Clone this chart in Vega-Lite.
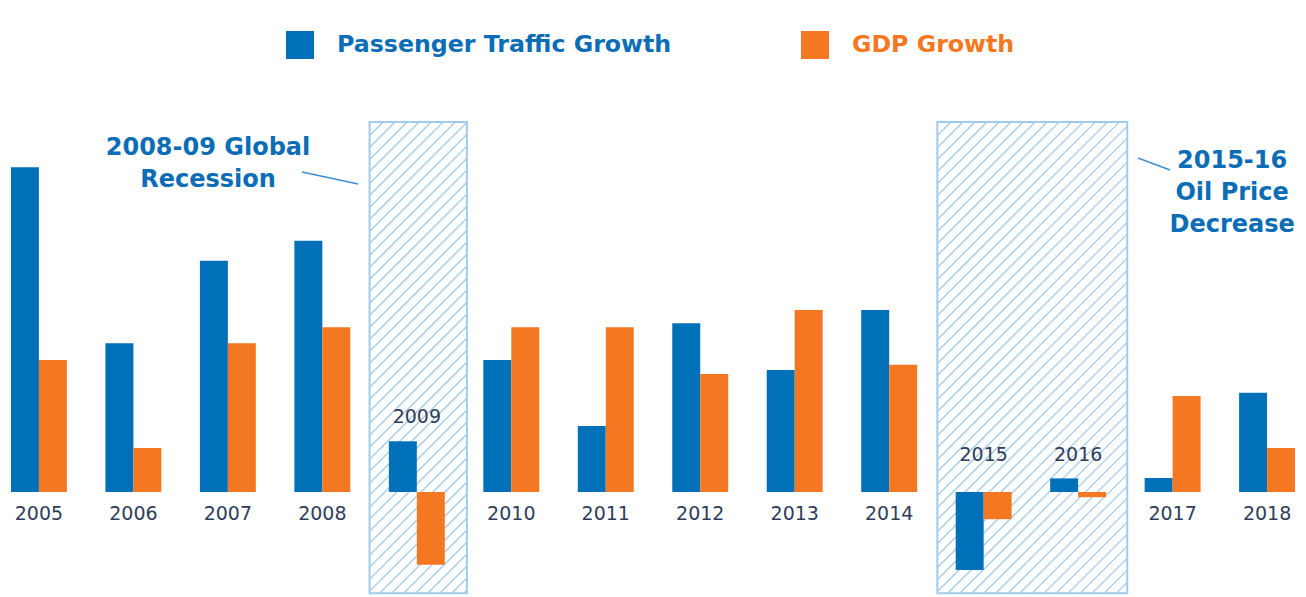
{
 "$schema": "https://vega.github.io/schema/vega-lite/v6.json",
 "width": 1306, "height": 597, "padding": 0, "autosize": {"type": "none"},
 "background": "#ffffff",
 "config": {"view": {"stroke": null}, "font": "DejaVu Sans"},
 "resolve": {"scale": {"x": "independent"}},
 "layer": [
  {
   "layer": [
    {
     "data": {"values": [{"start": 2008.5, "end": 2009.53}]},
     "mark": {"type": "rect", "stroke": "#a0cbec", "strokeWidth": 2,
      "fill": {"gradient": "linear", "x1": 0, "y1": 0, "x2": 0.2382, "y2": 1.1569, "stops": [
{"offset":0,"color":"#fff"},{"offset":0.0026,"color":"#8fc2e8"},{"offset":0.0053,"color":"#fff"},
{"offset":0.0211,"color":"#fff"},{"offset":0.0237,"color":"#8fc2e8"},{"offset":0.0264,"color":"#fff"},
{"offset":0.0422,"color":"#fff"},{"offset":0.0448,"color":"#8fc2e8"},{"offset":0.0475,"color":"#fff"},
{"offset":0.0633,"color":"#fff"},{"offset":0.0659,"color":"#8fc2e8"},{"offset":0.0686,"color":"#fff"},
{"offset":0.0844,"color":"#fff"},{"offset":0.087,"color":"#8fc2e8"},{"offset":0.0897,"color":"#fff"},
{"offset":0.1055,"color":"#fff"},{"offset":0.1081,"color":"#8fc2e8"},{"offset":0.1108,"color":"#fff"},
{"offset":0.1266,"color":"#fff"},{"offset":0.1292,"color":"#8fc2e8"},{"offset":0.1319,"color":"#fff"},
{"offset":0.1477,"color":"#fff"},{"offset":0.1503,"color":"#8fc2e8"},{"offset":0.153,"color":"#fff"},
{"offset":0.1688,"color":"#fff"},{"offset":0.1714,"color":"#8fc2e8"},{"offset":0.1741,"color":"#fff"},
{"offset":0.1899,"color":"#fff"},{"offset":0.1925,"color":"#8fc2e8"},{"offset":0.1952,"color":"#fff"},
{"offset":0.211,"color":"#fff"},{"offset":0.2136,"color":"#8fc2e8"},{"offset":0.2163,"color":"#fff"},
{"offset":0.2321,"color":"#fff"},{"offset":0.2347,"color":"#8fc2e8"},{"offset":0.2374,"color":"#fff"},
{"offset":0.2532,"color":"#fff"},{"offset":0.2558,"color":"#8fc2e8"},{"offset":0.2585,"color":"#fff"},
{"offset":0.2743,"color":"#fff"},{"offset":0.2769,"color":"#8fc2e8"},{"offset":0.2796,"color":"#fff"},
{"offset":0.2954,"color":"#fff"},{"offset":0.298,"color":"#8fc2e8"},{"offset":0.3007,"color":"#fff"},
{"offset":0.3165,"color":"#fff"},{"offset":0.3191,"color":"#8fc2e8"},{"offset":0.3218,"color":"#fff"},
{"offset":0.3376,"color":"#fff"},{"offset":0.3402,"color":"#8fc2e8"},{"offset":0.3429,"color":"#fff"},
{"offset":0.3587,"color":"#fff"},{"offset":0.3613,"color":"#8fc2e8"},{"offset":0.364,"color":"#fff"},
{"offset":0.3798,"color":"#fff"},{"offset":0.3824,"color":"#8fc2e8"},{"offset":0.3851,"color":"#fff"},
{"offset":0.4009,"color":"#fff"},{"offset":0.4035,"color":"#8fc2e8"},{"offset":0.4062,"color":"#fff"},
{"offset":0.422,"color":"#fff"},{"offset":0.4246,"color":"#8fc2e8"},{"offset":0.4273,"color":"#fff"},
{"offset":0.4431,"color":"#fff"},{"offset":0.4457,"color":"#8fc2e8"},{"offset":0.4484,"color":"#fff"},
{"offset":0.4642,"color":"#fff"},{"offset":0.4668,"color":"#8fc2e8"},{"offset":0.4695,"color":"#fff"},
{"offset":0.4853,"color":"#fff"},{"offset":0.4879,"color":"#8fc2e8"},{"offset":0.4906,"color":"#fff"},
{"offset":0.5064,"color":"#fff"},{"offset":0.509,"color":"#8fc2e8"},{"offset":0.5117,"color":"#fff"},
{"offset":0.5275,"color":"#fff"},{"offset":0.5301,"color":"#8fc2e8"},{"offset":0.5328,"color":"#fff"},
{"offset":0.5486,"color":"#fff"},{"offset":0.5512,"color":"#8fc2e8"},{"offset":0.5539,"color":"#fff"},
{"offset":0.5697,"color":"#fff"},{"offset":0.5723,"color":"#8fc2e8"},{"offset":0.575,"color":"#fff"},
{"offset":0.5908,"color":"#fff"},{"offset":0.5934,"color":"#8fc2e8"},{"offset":0.5961,"color":"#fff"},
{"offset":0.6119,"color":"#fff"},{"offset":0.6145,"color":"#8fc2e8"},{"offset":0.6172,"color":"#fff"},
{"offset":0.633,"color":"#fff"},{"offset":0.6356,"color":"#8fc2e8"},{"offset":0.6383,"color":"#fff"},
{"offset":0.6541,"color":"#fff"},{"offset":0.6567,"color":"#8fc2e8"},{"offset":0.6594,"color":"#fff"},
{"offset":0.6752,"color":"#fff"},{"offset":0.6778,"color":"#8fc2e8"},{"offset":0.6805,"color":"#fff"},
{"offset":0.6963,"color":"#fff"},{"offset":0.6989,"color":"#8fc2e8"},{"offset":0.7016,"color":"#fff"},
{"offset":0.7174,"color":"#fff"},{"offset":0.72,"color":"#8fc2e8"},{"offset":0.7227,"color":"#fff"},
{"offset":0.7385,"color":"#fff"},{"offset":0.7411,"color":"#8fc2e8"},{"offset":0.7438,"color":"#fff"},
{"offset":0.7596,"color":"#fff"},{"offset":0.7622,"color":"#8fc2e8"},{"offset":0.7649,"color":"#fff"},
{"offset":0.7807,"color":"#fff"},{"offset":0.7833,"color":"#8fc2e8"},{"offset":0.786,"color":"#fff"},
{"offset":0.8018,"color":"#fff"},{"offset":0.8044,"color":"#8fc2e8"},{"offset":0.8071,"color":"#fff"},
{"offset":0.8229,"color":"#fff"},{"offset":0.8255,"color":"#8fc2e8"},{"offset":0.8282,"color":"#fff"},
{"offset":0.844,"color":"#fff"},{"offset":0.8466,"color":"#8fc2e8"},{"offset":0.8493,"color":"#fff"},
{"offset":0.8651,"color":"#fff"},{"offset":0.8677,"color":"#8fc2e8"},{"offset":0.8704,"color":"#fff"},
{"offset":0.8862,"color":"#fff"},{"offset":0.8888,"color":"#8fc2e8"},{"offset":0.8915,"color":"#fff"},
{"offset":0.9073,"color":"#fff"},{"offset":0.9099,"color":"#8fc2e8"},{"offset":0.9126,"color":"#fff"},
{"offset":0.9284,"color":"#fff"},{"offset":0.931,"color":"#8fc2e8"},{"offset":0.9337,"color":"#fff"},
{"offset":0.9495,"color":"#fff"},{"offset":0.9521,"color":"#8fc2e8"},{"offset":0.9548,"color":"#fff"},
{"offset":0.9706,"color":"#fff"},{"offset":0.9732,"color":"#8fc2e8"},{"offset":0.9759,"color":"#fff"},
{"offset":0.9917,"color":"#fff"},{"offset":0.9943,"color":"#8fc2e8"},{"offset":0.997,"color":"#fff"}
      ]}},
     "encoding": {
      "x": {"field": "start", "type": "quantitative", "axis": null, "scale": {"domain": [2004.588, 2018.412], "nice": false, "zero": false}},
      "x2": {"field": "end"},
      "y": {"datum": 9.25, "type": "quantitative", "axis": null, "scale": {"domain": [-2.625, 12.3], "nice": false, "zero": false}},
      "y2": {"datum": -2.53}
     }
    },
    {
     "data": {"values": [{"start": 2014.51, "end": 2016.52}]},
     "mark": {"type": "rect", "stroke": "#a0cbec", "strokeWidth": 2,
      "fill": {"gradient": "linear", "x1": 0, "y1": 0, "x2": 0.4848, "y2": 1.2069, "stops": [
{"offset":0,"color":"#fff"},{"offset":0.0023,"color":"#8fc2e8"},{"offset":0.0045,"color":"#fff"},
{"offset":0.0182,"color":"#fff"},{"offset":0.0205,"color":"#8fc2e8"},{"offset":0.0227,"color":"#fff"},
{"offset":0.0363,"color":"#fff"},{"offset":0.0386,"color":"#8fc2e8"},{"offset":0.0408,"color":"#fff"},
{"offset":0.0545,"color":"#fff"},{"offset":0.0568,"color":"#8fc2e8"},{"offset":0.059,"color":"#fff"},
{"offset":0.0727,"color":"#fff"},{"offset":0.075,"color":"#8fc2e8"},{"offset":0.0772,"color":"#fff"},
{"offset":0.0909,"color":"#fff"},{"offset":0.0932,"color":"#8fc2e8"},{"offset":0.0954,"color":"#fff"},
{"offset":0.109,"color":"#fff"},{"offset":0.1113,"color":"#8fc2e8"},{"offset":0.1135,"color":"#fff"},
{"offset":0.1272,"color":"#fff"},{"offset":0.1295,"color":"#8fc2e8"},{"offset":0.1317,"color":"#fff"},
{"offset":0.1454,"color":"#fff"},{"offset":0.1477,"color":"#8fc2e8"},{"offset":0.1499,"color":"#fff"},
{"offset":0.1635,"color":"#fff"},{"offset":0.1658,"color":"#8fc2e8"},{"offset":0.168,"color":"#fff"},
{"offset":0.1817,"color":"#fff"},{"offset":0.184,"color":"#8fc2e8"},{"offset":0.1862,"color":"#fff"},
{"offset":0.1999,"color":"#fff"},{"offset":0.2022,"color":"#8fc2e8"},{"offset":0.2044,"color":"#fff"},
{"offset":0.218,"color":"#fff"},{"offset":0.2203,"color":"#8fc2e8"},{"offset":0.2225,"color":"#fff"},
{"offset":0.2362,"color":"#fff"},{"offset":0.2385,"color":"#8fc2e8"},{"offset":0.2407,"color":"#fff"},
{"offset":0.2544,"color":"#fff"},{"offset":0.2567,"color":"#8fc2e8"},{"offset":0.2589,"color":"#fff"},
{"offset":0.2726,"color":"#fff"},{"offset":0.2749,"color":"#8fc2e8"},{"offset":0.2771,"color":"#fff"},
{"offset":0.2907,"color":"#fff"},{"offset":0.293,"color":"#8fc2e8"},{"offset":0.2952,"color":"#fff"},
{"offset":0.3089,"color":"#fff"},{"offset":0.3112,"color":"#8fc2e8"},{"offset":0.3134,"color":"#fff"},
{"offset":0.3271,"color":"#fff"},{"offset":0.3294,"color":"#8fc2e8"},{"offset":0.3316,"color":"#fff"},
{"offset":0.3452,"color":"#fff"},{"offset":0.3475,"color":"#8fc2e8"},{"offset":0.3497,"color":"#fff"},
{"offset":0.3634,"color":"#fff"},{"offset":0.3657,"color":"#8fc2e8"},{"offset":0.3679,"color":"#fff"},
{"offset":0.3816,"color":"#fff"},{"offset":0.3839,"color":"#8fc2e8"},{"offset":0.3861,"color":"#fff"},
{"offset":0.3997,"color":"#fff"},{"offset":0.402,"color":"#8fc2e8"},{"offset":0.4042,"color":"#fff"},
{"offset":0.4179,"color":"#fff"},{"offset":0.4202,"color":"#8fc2e8"},{"offset":0.4224,"color":"#fff"},
{"offset":0.4361,"color":"#fff"},{"offset":0.4384,"color":"#8fc2e8"},{"offset":0.4406,"color":"#fff"},
{"offset":0.4543,"color":"#fff"},{"offset":0.4566,"color":"#8fc2e8"},{"offset":0.4588,"color":"#fff"},
{"offset":0.4724,"color":"#fff"},{"offset":0.4747,"color":"#8fc2e8"},{"offset":0.4769,"color":"#fff"},
{"offset":0.4906,"color":"#fff"},{"offset":0.4929,"color":"#8fc2e8"},{"offset":0.4951,"color":"#fff"},
{"offset":0.5088,"color":"#fff"},{"offset":0.5111,"color":"#8fc2e8"},{"offset":0.5133,"color":"#fff"},
{"offset":0.5269,"color":"#fff"},{"offset":0.5292,"color":"#8fc2e8"},{"offset":0.5314,"color":"#fff"},
{"offset":0.5451,"color":"#fff"},{"offset":0.5474,"color":"#8fc2e8"},{"offset":0.5496,"color":"#fff"},
{"offset":0.5633,"color":"#fff"},{"offset":0.5656,"color":"#8fc2e8"},{"offset":0.5678,"color":"#fff"},
{"offset":0.5814,"color":"#fff"},{"offset":0.5837,"color":"#8fc2e8"},{"offset":0.5859,"color":"#fff"},
{"offset":0.5996,"color":"#fff"},{"offset":0.6019,"color":"#8fc2e8"},{"offset":0.6041,"color":"#fff"},
{"offset":0.6178,"color":"#fff"},{"offset":0.6201,"color":"#8fc2e8"},{"offset":0.6223,"color":"#fff"},
{"offset":0.636,"color":"#fff"},{"offset":0.6383,"color":"#8fc2e8"},{"offset":0.6405,"color":"#fff"},
{"offset":0.6541,"color":"#fff"},{"offset":0.6564,"color":"#8fc2e8"},{"offset":0.6586,"color":"#fff"},
{"offset":0.6723,"color":"#fff"},{"offset":0.6746,"color":"#8fc2e8"},{"offset":0.6768,"color":"#fff"},
{"offset":0.6905,"color":"#fff"},{"offset":0.6928,"color":"#8fc2e8"},{"offset":0.695,"color":"#fff"},
{"offset":0.7086,"color":"#fff"},{"offset":0.7109,"color":"#8fc2e8"},{"offset":0.7131,"color":"#fff"},
{"offset":0.7268,"color":"#fff"},{"offset":0.7291,"color":"#8fc2e8"},{"offset":0.7313,"color":"#fff"},
{"offset":0.745,"color":"#fff"},{"offset":0.7473,"color":"#8fc2e8"},{"offset":0.7495,"color":"#fff"},
{"offset":0.7631,"color":"#fff"},{"offset":0.7654,"color":"#8fc2e8"},{"offset":0.7676,"color":"#fff"},
{"offset":0.7813,"color":"#fff"},{"offset":0.7836,"color":"#8fc2e8"},{"offset":0.7858,"color":"#fff"},
{"offset":0.7995,"color":"#fff"},{"offset":0.8018,"color":"#8fc2e8"},{"offset":0.804,"color":"#fff"},
{"offset":0.8177,"color":"#fff"},{"offset":0.82,"color":"#8fc2e8"},{"offset":0.8222,"color":"#fff"},
{"offset":0.8358,"color":"#fff"},{"offset":0.8381,"color":"#8fc2e8"},{"offset":0.8403,"color":"#fff"},
{"offset":0.854,"color":"#fff"},{"offset":0.8563,"color":"#8fc2e8"},{"offset":0.8585,"color":"#fff"},
{"offset":0.8722,"color":"#fff"},{"offset":0.8745,"color":"#8fc2e8"},{"offset":0.8767,"color":"#fff"},
{"offset":0.8903,"color":"#fff"},{"offset":0.8926,"color":"#8fc2e8"},{"offset":0.8948,"color":"#fff"},
{"offset":0.9085,"color":"#fff"},{"offset":0.9108,"color":"#8fc2e8"},{"offset":0.913,"color":"#fff"},
{"offset":0.9267,"color":"#fff"},{"offset":0.929,"color":"#8fc2e8"},{"offset":0.9312,"color":"#fff"},
{"offset":0.9448,"color":"#fff"},{"offset":0.9471,"color":"#8fc2e8"},{"offset":0.9493,"color":"#fff"},
{"offset":0.963,"color":"#fff"},{"offset":0.9653,"color":"#8fc2e8"},{"offset":0.9675,"color":"#fff"},
{"offset":0.9812,"color":"#fff"},{"offset":0.9835,"color":"#8fc2e8"},{"offset":0.9857,"color":"#fff"}
      ]}},
     "encoding": {
      "x": {"field": "start", "type": "quantitative", "axis": null, "scale": {"domain": [2004.588, 2018.412], "nice": false, "zero": false}},
      "x2": {"field": "end"},
      "y": {"datum": 9.25, "type": "quantitative"},
      "y2": {"datum": -2.53}
     }
    },
    {
     "data": {"values": [{"note": "recession"}]},
     "mark": {"type": "text", "text": ["2008-09 Global", "Recession"], "align": "center", "baseline": "alphabetic", "lineHeight": 32, "fontSize": 24, "fontWeight": "bold", "color": "#0a6db6"},
     "encoding": {
      "x": {"datum": 2006.79, "type": "quantitative", "scale": {"domain": [2004.588, 2018.412], "nice": false, "zero": false}},
      "y": {"datum": 8.425, "type": "quantitative"}
     }
    },
    {
     "data": {"values": [{"note": "oil"}]},
     "mark": {"type": "text", "text": ["2015-16", "Oil Price", "Decrease"], "align": "center", "baseline": "alphabetic", "lineHeight": 32, "fontSize": 24, "fontWeight": "bold", "color": "#0a6db6"},
     "encoding": {
      "x": {"datum": 2017.63, "type": "quantitative", "scale": {"domain": [2004.588, 2018.412], "nice": false, "zero": false}},
      "y": {"datum": 8.1, "type": "quantitative"}
     }
    },
    {
     "data": {"values": [{"note": "recession"}]},
     "mark": {"type": "rule", "color": "#3d8fd1", "strokeWidth": 1.5},
     "encoding": {
      "x": {"datum": 2007.785, "type": "quantitative", "scale": {"domain": [2004.588, 2018.412], "nice": false, "zero": false}},
      "x2": {"datum": 2008.378},
      "y": {"datum": 8.0, "type": "quantitative"},
      "y2": {"datum": 7.7}
     }
    },
    {
     "data": {"values": [{"note": "oil"}]},
     "mark": {"type": "rule", "color": "#3d8fd1", "strokeWidth": 1.5},
     "encoding": {
      "x": {"datum": 2016.634, "type": "quantitative", "scale": {"domain": [2004.588, 2018.412], "nice": false, "zero": false}},
      "x2": {"datum": 2016.973},
      "y": {"datum": 8.35, "type": "quantitative"},
      "y2": {"datum": 8.05}
     }
    }
   ]
  },
  {
   "data": {"values": [
    {"year": 2005, "series": "Passenger Traffic Growth", "value": 8.12},
    {"year": 2005, "series": "GDP Growth", "value": 3.3},
    {"year": 2006, "series": "Passenger Traffic Growth", "value": 3.72},
    {"year": 2006, "series": "GDP Growth", "value": 1.1},
    {"year": 2007, "series": "Passenger Traffic Growth", "value": 5.78},
    {"year": 2007, "series": "GDP Growth", "value": 3.72},
    {"year": 2008, "series": "Passenger Traffic Growth", "value": 6.28},
    {"year": 2008, "series": "GDP Growth", "value": 4.12},
    {"year": 2009, "series": "Passenger Traffic Growth", "value": 1.27},
    {"year": 2009, "series": "GDP Growth", "value": -1.82},
    {"year": 2010, "series": "Passenger Traffic Growth", "value": 3.3},
    {"year": 2010, "series": "GDP Growth", "value": 4.12},
    {"year": 2011, "series": "Passenger Traffic Growth", "value": 1.65},
    {"year": 2011, "series": "GDP Growth", "value": 4.12},
    {"year": 2012, "series": "Passenger Traffic Growth", "value": 4.22},
    {"year": 2012, "series": "GDP Growth", "value": 2.95},
    {"year": 2013, "series": "Passenger Traffic Growth", "value": 3.05},
    {"year": 2013, "series": "GDP Growth", "value": 4.55},
    {"year": 2014, "series": "Passenger Traffic Growth", "value": 4.55},
    {"year": 2014, "series": "GDP Growth", "value": 3.18},
    {"year": 2015, "series": "Passenger Traffic Growth", "value": -1.95},
    {"year": 2015, "series": "GDP Growth", "value": -0.68},
    {"year": 2016, "series": "Passenger Traffic Growth", "value": 0.34},
    {"year": 2016, "series": "GDP Growth", "value": -0.13},
    {"year": 2017, "series": "Passenger Traffic Growth", "value": 0.35},
    {"year": 2017, "series": "GDP Growth", "value": 2.4},
    {"year": 2018, "series": "Passenger Traffic Growth", "value": 2.48},
    {"year": 2018, "series": "GDP Growth", "value": 1.1}
   ]},
   "layer": [
    {
     "mark": {"type": "bar"},
     "encoding": {
      "x": {"field": "year", "type": "ordinal", "axis": null,
       "scale": {"domain": [2005,2006,2007,2008,2009,2010,2011,2012,2013,2014,2015,2016,2017,2018], "paddingInner": 0.408, "paddingOuter": 0.116}},
      "xOffset": {"field": "series", "type": "nominal", "scale": {"domain": ["Passenger Traffic Growth", "GDP Growth"], "paddingInner": 0, "paddingOuter": 0}},
      "y": {"field": "value", "type": "quantitative", "axis": null},
      "color": {"field": "series", "type": "nominal",
       "scale": {"domain": ["Passenger Traffic Growth", "GDP Growth"], "range": ["#0070b9", "#f47721"]},
       "legend": {"orient": "none", "legendX": 286, "legendY": 31, "direction": "horizontal", "title": null,
        "symbolType": "square", "symbolSize": 784, "symbolStrokeWidth": 0, "symbolOpacity": 1,
        "labelFont": "DejaVu Sans", "labelFontSize": 23.7, "labelFontWeight": "bold", "labelOffset": 23,
        "columnPadding": 129, "labelLimit": 600,
        "encode": {"labels": {"update": {"fill": {"signal": "datum.value === 'GDP Growth' ? '#f47721' : '#0a6db6'"}}}}}
      }
     }
    },
    {
     "transform": [{"filter": "datum.series === 'Passenger Traffic Growth' && datum.year !== 2009 && datum.year !== 2015 && datum.year !== 2016"}],
     "mark": {"type": "text", "dy": 22, "fontSize": 19, "color": "#2f3d5a", "baseline": "middle", "align": "center"},
     "encoding": {
      "x": {"field": "year", "type": "ordinal"},
      "y": {"datum": 0, "type": "quantitative"},
      "text": {"field": "year", "type": "ordinal"}
     }
    },
    {
     "transform": [{"filter": "datum.series === 'Passenger Traffic Growth' && datum.year === 2009"}],
     "mark": {"type": "text", "dy": -24, "fontSize": 19, "color": "#2f3d5a", "baseline": "middle", "align": "center"},
     "encoding": {
      "x": {"field": "year", "type": "ordinal"},
      "y": {"field": "value", "type": "quantitative"},
      "text": {"field": "year", "type": "ordinal"}
     }
    },
    {
     "transform": [{"filter": "datum.series === 'Passenger Traffic Growth' && (datum.year === 2015 || datum.year === 2016)"}],
     "mark": {"type": "text", "dy": -37, "fontSize": 19, "color": "#2f3d5a", "baseline": "middle", "align": "center"},
     "encoding": {
      "x": {"field": "year", "type": "ordinal"},
      "y": {"datum": 0, "type": "quantitative"},
      "text": {"field": "year", "type": "ordinal"}
     }
    }
   ]
  }
 ]
}
